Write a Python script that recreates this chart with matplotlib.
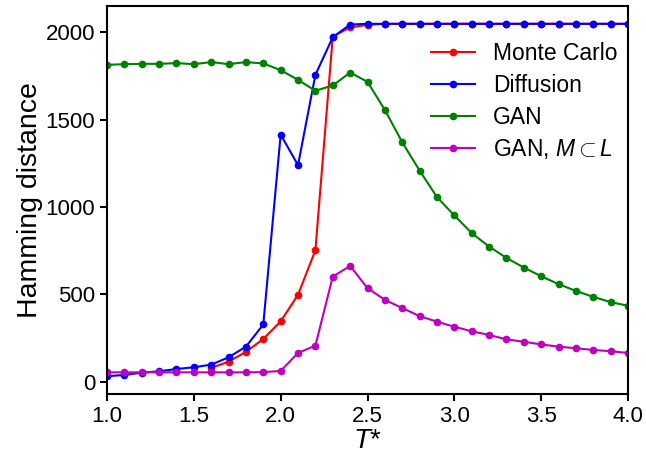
import matplotlib
matplotlib.use('Agg')
import matplotlib.pyplot as plt

plt.rcParams['font.family'] = ['Liberation Sans', 'DejaVu Sans']
plt.rcParams['mathtext.fontset'] = 'custom'
plt.rcParams['mathtext.rm'] = 'Liberation Sans'
plt.rcParams['mathtext.it'] = 'Liberation Sans:italic'

# температуры T* = 1.0 ... 4.0
T = [round(1.0 + 0.1 * i, 1) for i in range(31)]

# Monte Carlo начинается с T = 1.6
T_mc = T[6:]
mc = [78, 114, 170, 244, 345, 497, 752, 1975, 2028, 2042,
      2048, 2048, 2048, 2048, 2048, 2048, 2048, 2048, 2048, 2048,
      2048, 2048, 2048, 2048, 2048]

diff = [31, 38, 51, 59, 72, 82, 97, 139, 200, 327,
        1414, 1239, 1756, 1971, 2044, 2048, 2048, 2048, 2048, 2048,
        2048, 2048, 2048, 2048, 2048, 2048, 2048, 2048, 2048, 2048, 2048]

gan = [1813, 1817, 1819, 1819, 1823, 1817, 1829, 1817, 1829, 1821,
       1783, 1727, 1665, 1695, 1769, 1716, 1555, 1370, 1208, 1056,
       951, 850, 773, 708, 653, 603, 558, 519, 485, 455, 434]

gan_ml = [53, 53, 53, 53, 53, 53, 53, 53, 53, 54,
          61, 164, 206, 601, 662, 535, 468, 421, 375, 343,
          314, 288, 267, 242, 228, 213, 200, 191, 181, 174, 164]

fig = plt.figure(figsize=(6.46, 4.55), dpi=100)
ax = fig.add_axes([107/646, 1 - 394/455, (628-107)/646, (394-6)/455])

st = dict(lw=1.5, marker='o', ms=4.5)
ax.plot(T_mc, mc, color='r', label='Monte Carlo', **st)
ax.plot(T, diff, color='b', label='Diffusion', **st)
ax.plot(T, gan, color='g', label='GAN', **st)
ax.plot(T, gan_ml, color='m', label=r'GAN, $M \subset L$', **st)

ax.set_xlim(1.0, 4.0)
ax.set_ylim(-71, 2150)
ax.set_xticks([1.0, 1.5, 2.0, 2.5, 3.0, 3.5, 4.0])
ax.set_yticks([0, 500, 1000, 1500, 2000])
ax.tick_params(labelsize=16, width=1.5, length=5)
for s in ax.spines.values():
    s.set_linewidth(1.5)

ax.set_xlabel(r'$T$*', fontsize=20, labelpad=1)
ax.set_ylabel('Hamming distance', fontsize=20.5, labelpad=2)

ax.legend(loc='upper right', bbox_to_anchor=(1.02, 0.96), frameon=False, fontsize=16.5,
          handlelength=1.9, handletextpad=0.8, labelspacing=0.38)

fig.savefig('out.png', dpi=100)
